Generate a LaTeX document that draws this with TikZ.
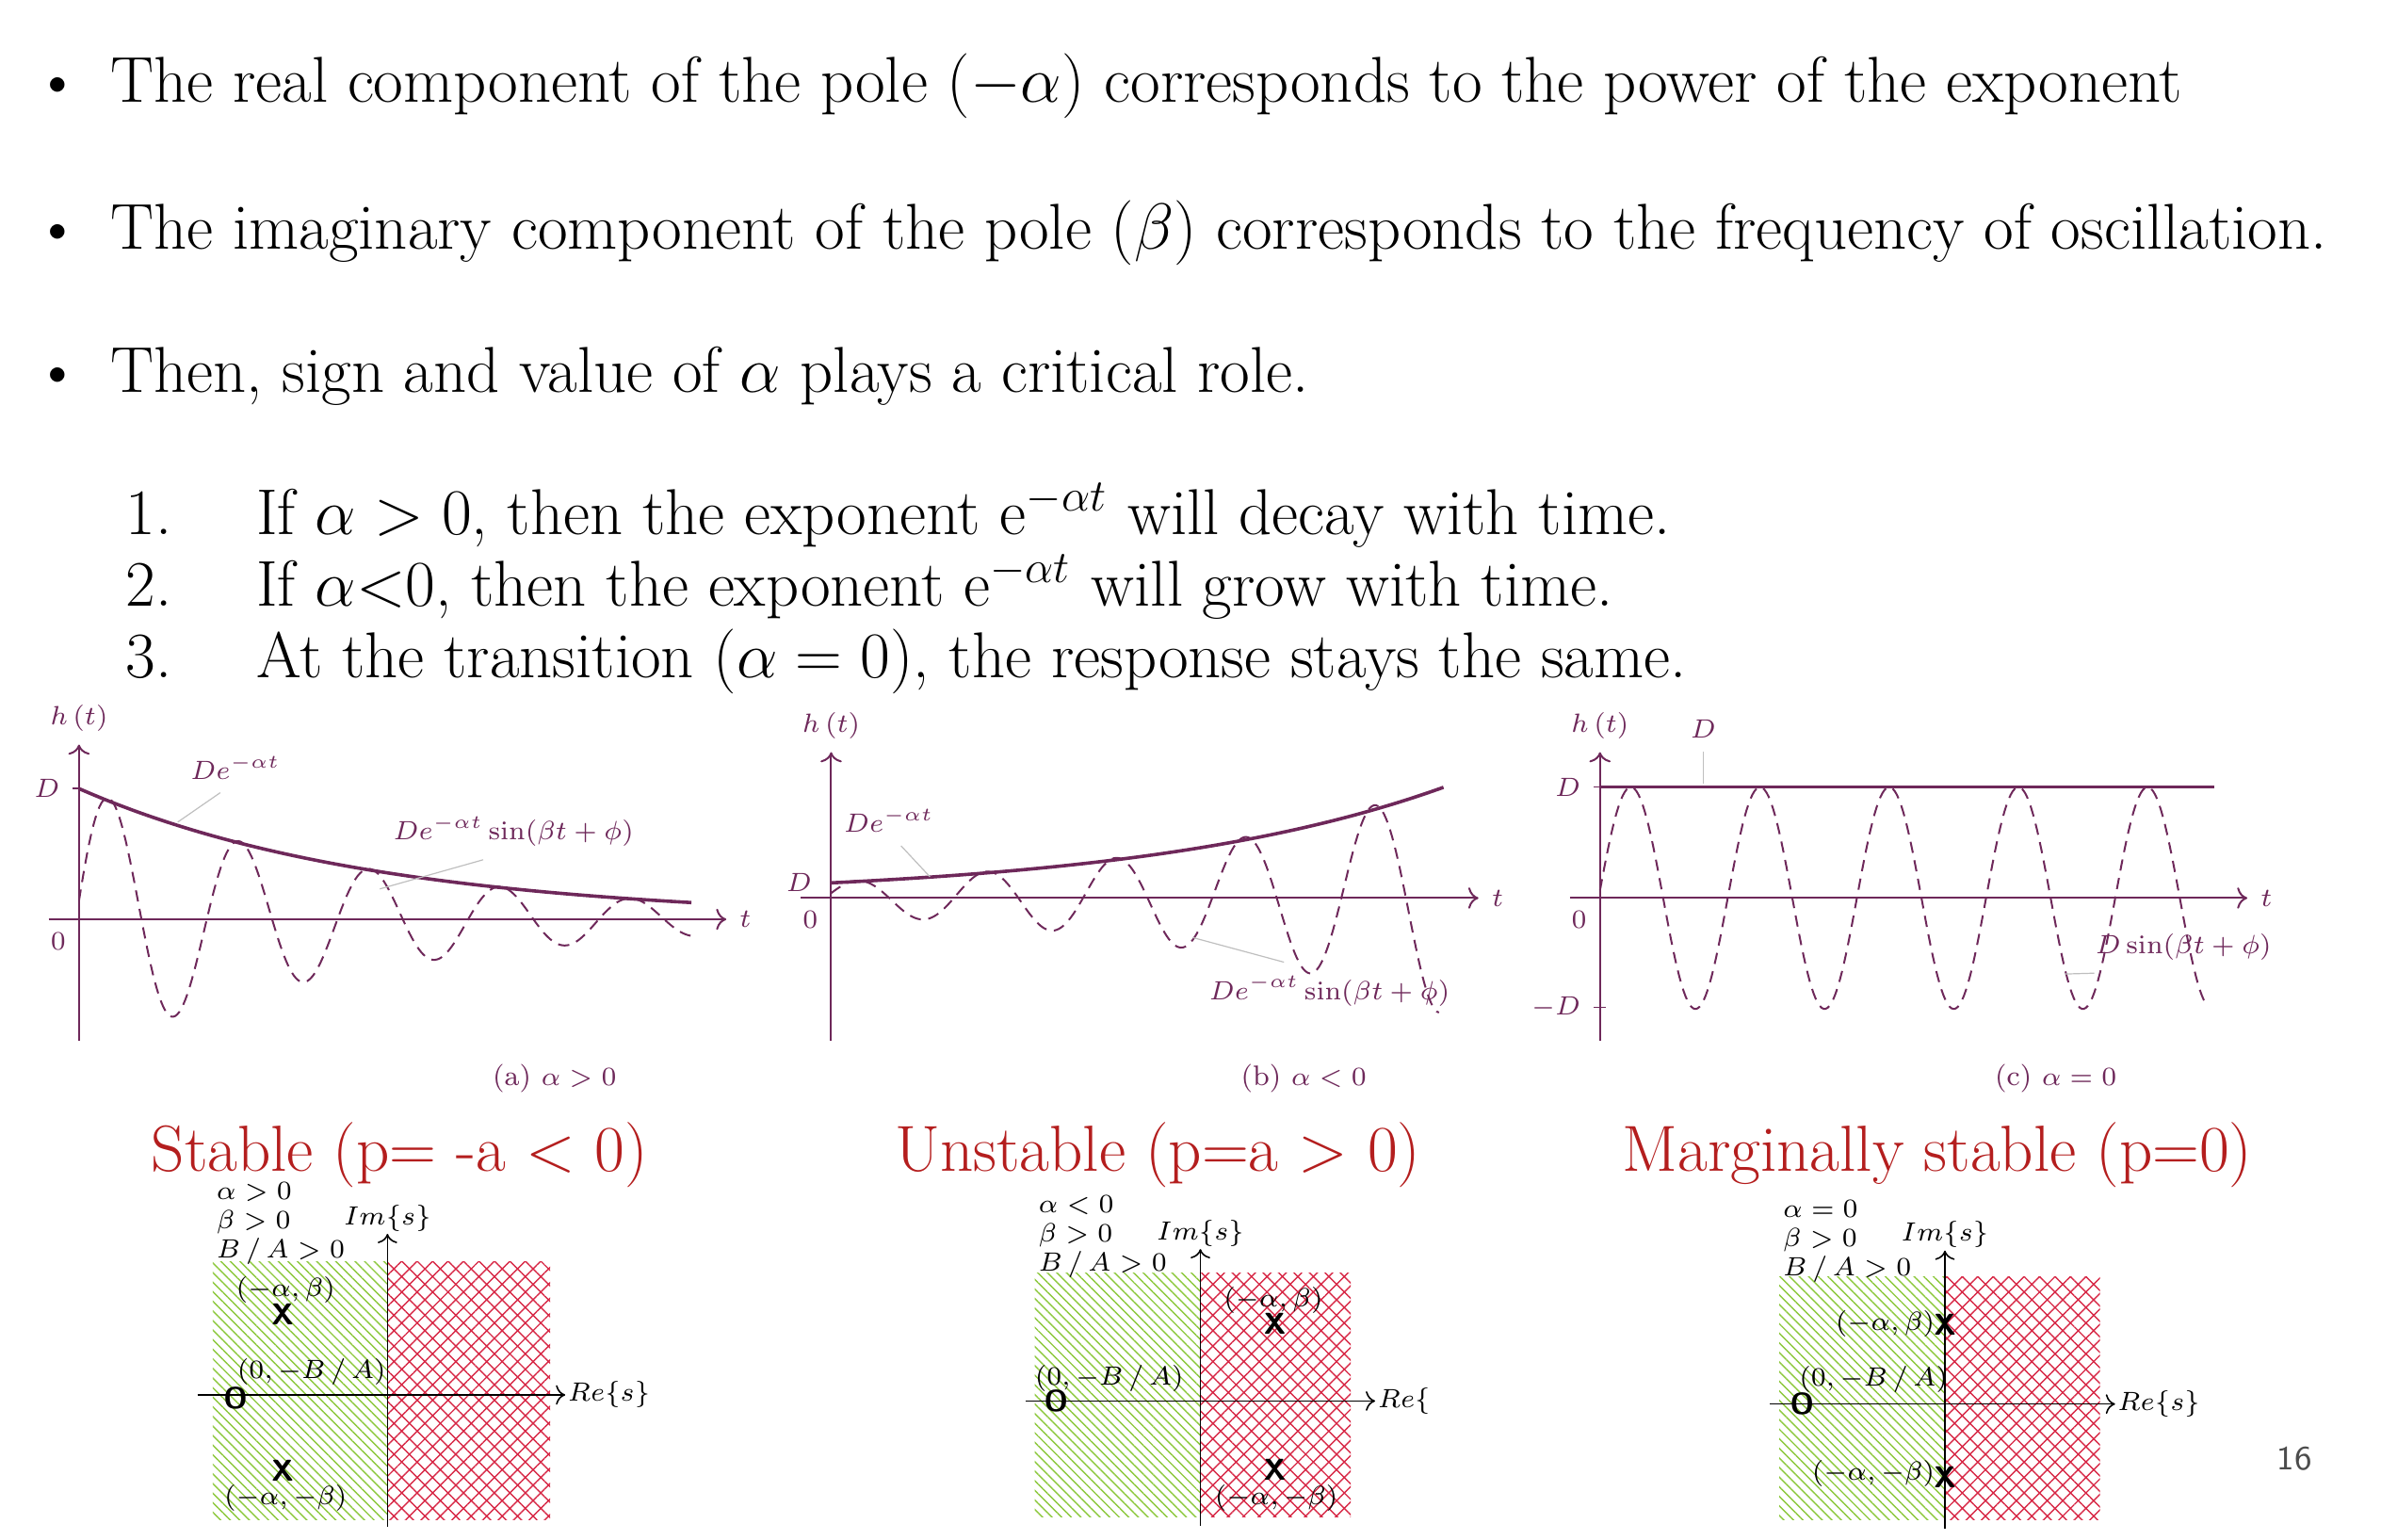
\documentclass[tikz,border=0pt]{standalone}
\usetikzlibrary{patterns.meta,arrows.meta}
\definecolor{plum}{RGB}{110,40,90}
\definecolor{titlered}{RGB}{180,30,30}
\definecolor{hatchgreen}{RGB}{140,200,60}
\definecolor{hatchred}{RGB}{215,40,70}
\begin{document}
\begin{tikzpicture}[x=0.4033pt,y=-0.4033pt,>=To,
  bullet/.style={anchor=base west,font=\fontsize{17.2}{20}\selectfont},
  title/.style={text=titlered,font=\fontsize{17.3}{21}\selectfont},
  axis/.style={plum,line width=0.5pt,->},
  env/.style={plum,line width=0.9pt},
  osc/.style={plum,dashed,line width=0.5pt,dash pattern=on 3pt off 2pt},
  lead/.style={black!25,line width=0.3pt},
  plab/.style={plum,font=\fontsize{7.5}{9}\selectfont},
  pax/.style={black,line width=0.4pt,->},
  pl/.style={font=\fontsize{6.8}{8}\selectfont\itshape,inner sep=0.5pt},
  cond/.style={font=\fontsize{6.8}{7.8}\selectfont,anchor=west,align=left,inner sep=0pt},
  pole/.style={font=\sffamily\bfseries\fontsize{8}{8}\selectfont,inner sep=0pt},
  stab/.style={pattern={Lines[angle=-45,distance=1.8pt,line width=0.35pt]},pattern color=hatchgreen},
  unst/.style={pattern={Hatch[angle=45,distance=2.9pt,line width=0.35pt]},pattern color=hatchred}]
\useasboundingbox (0,0) rectangle (1567,1013);

% Bullets
\foreach \y/\txt in {67/{The real component of the pole ($-\alpha$) corresponds to the power of the exponent},
  164/{The imaginary component of the pole ($\beta$) corresponds to the frequency of oscillation.},
  258/{Then, sign and value of $\alpha$ plays a critical role.}}{
  \node[bullet] at (14,\y) {\textbullet};
  \node[bullet] at (64,\y) {\txt};
}
\foreach \y/\n/\txt in {352/1./{If $\alpha>0$, then the exponent e$^{-\alpha t}$ will decay with time.},
  399/2./{If $\alpha{<}0$, then the exponent e$^{-\alpha t}$ will grow with time.},
  446/3./{At the transition ($\alpha=0$), the response stays the same.}}{
  \node[bullet] at (74,\y) {\n};
  \node[bullet] at (160,\y) {\txt};
}

% Plot (a): decay
\begin{scope}[shift={(52,605)}]
  \draw[axis] (-20,0) -- (426,0) node[right,plab] (ta) {$t$};
  \draw[axis] (0,80) -- (0,-115) node[above,plab] (ha) {$h\,(t)$};
  \draw[plum,line width=0.4pt] (-4,-86) -- (0,-86);
  \node[plab,left] (da) at (-4,-86) {$D$};
  \node[plab,below left] (za) at (0,0) {$0$};
  \draw[env] plot[domain=0:403,samples=120] (\x,{-86*exp(-0.0051*\x)});
  \draw[osc] plot[domain=0:403,samples=300] (\x,{-88*exp(-0.0051*\x)*sin(4.186*\x+8)});
  \node[plab] (ea) at (103,-100) {$De^{-\alpha t}$};
  \node[plab] (sa) at (286,-58) {$De^{-\alpha t}\sin(\beta t+\phi)$};
  \draw[lead] (ea.south) ++(-10,0) -- (65,-64);
  \draw[lead] (sa.south) ++(-20,0) -- (198,-20);
  \node[plab] (ca) at (313,105) {(a) $\alpha>0$};
\end{scope}

% Plot (b): growth
\begin{scope}[shift={(547,591)}]
  \draw[axis] (-20,0) -- (426,0) node[right,plab] (tb) {$t$};
  \draw[axis] (0,94) -- (0,-96) node[above,plab] (hb) {$h\,(t)$};
  \node[plab,left] (db) at (-4,-10) {$D$};
  \node[plab,below left] (zb) at (0,0) {$0$};
  \draw[env] plot[domain=0:403,samples=120] (\x,{-10*exp(0.00493*\x)});
  \draw[osc] plot[domain=0:400,samples=300] (\x,{-10.5*exp(0.00493*\x)*sin(4.235*\x+18)});
  \node[plab] (eb) at (38,-51) {$De^{-\alpha t}$};
  \node[plab] (sb) at (328,61) {$De^{-\alpha t}\sin(\beta t+\phi)$};
  \draw[lead] (eb.south) ++(8,0) -- (65,-14);
  \draw[lead] (sb.north) ++(-30,0) -- (238,26);
  \node[plab] (cb) at (311,119) {(b) $\alpha<0$};
\end{scope}

% Plot (c): marginal
\begin{scope}[shift={(1053,591)}]
  \draw[axis] (-20,0) -- (426,0) node[right,plab] (tc) {$t$};
  \draw[axis] (0,94) -- (0,-96) node[above,plab] (hc) {$h\,(t)$};
  \draw[plum,line width=0.4pt] (-4,-73) -- (0,-73) (-4,72) -- (4,72);
  \node[plab,left] (dc) at (-4,-73) {$D$};
  \node[plab,left] (mdc) at (-4,72) {$-D$};
  \node[plab,below left] (zc) at (0,0) {$0$};
  \draw[env] (0,-73) -- (404,-73);
  \draw[osc] plot[domain=0:400,samples=300] (\x,{-73*sin(4.235*\x+4)});
  \node[plab] (ec) at (68,-111) {$D$};
  \node[plab] (sc) at (384,32) {$D\sin(\beta t+\phi)$};
  \draw[lead] (ec.south) ++(0,0) -- (68,-75);
  \draw[lead] (sc.south west) ++(8,0) -- (306,50);
  \node[plab] (cc) at (300,119) {(c) $\alpha=0$};
\end{scope}

% Titles
\node[title] (t1) at (263,760) {Stable (p= -a $<$ 0)};
\node[title] (t2) at (762,760) {Unstable (p=a $>$ 0)};
\node[title] (t3) at (1275,760) {Marginally stable (p=0)};

% Pole-zero plane 1
\fill[stab] (140,830) rectangle (255,1000);
\fill[unst] (255,830) rectangle (362,1000);
\draw[pax] (130,918) -- (372,918) node[right,pl] (re1) {$Re\{s\}$};
\draw[pax] (255,1005) -- (255,812) node[above,pl] (im1) {$Im\{s\}$};
\node[cond] (k1) at (142,805) {$\alpha>0$\\$\beta>0$\\$B\,/\,A>0$};
\node[pole] (p1a) at (186,865) {X};
\node[pole] (p1b) at (186,968) {X};
\node[pole] (z1) at (155,920) {O};
\node[pl] at (188,849) {$(-\alpha,\beta)$};
\node[pl] at (205,903) {$(0,-B\,/\,A)$};
\node[pl] at (188,986) {$(-\alpha,-\beta)$};

% Pole-zero plane 2
\fill[stab] (681,838) rectangle (790,998);
\fill[unst] (790,838) rectangle (889,998);
\draw[pax] (675,922) -- (905,922) node[right,pl] (re2) {$Re\{$};
\draw[pax] (790,1004) -- (790,822) node[above,pl] (im2) {$Im\{s\}$};
\node[cond] (k2) at (683,814) {$\alpha<0$\\$\beta>0$\\$B\,/\,A>0$};
\node[pole] (p2a) at (839,871) {X};
\node[pole] (p2b) at (839,967) {X};
\node[pole] (z2) at (695,922) {O};
\node[pl] at (838,856) {$(-\alpha,\beta)$};
\node[pl] at (730,907) {$(0,-B\,/\,A)$};
\node[pl] at (840,986) {$(-\alpha,-\beta)$};

% Pole-zero plane 3
\fill[stab] (1171,840) rectangle (1280,1000);
\fill[unst] (1280,840) rectangle (1382,1000);
\draw[pax] (1165,924) -- (1392,924) node[right,pl] (re3) {$Re\{s\}$};
\draw[pax] (1280,1006) -- (1280,823) node[above,pl] (im3) {$Im\{s\}$};
\node[cond] (k3) at (1173,817) {$\alpha=0$\\$\beta>0$\\$B\,/\,A>0$};
\node[pole] (p3a) at (1280,872) {X};
\node[pole] (p3b) at (1280,972) {X};
\node[pole] (z3) at (1186,924) {O};
\node[pl,left] at (1275,871) {$(-\alpha,\beta)$};
\node[pl] at (1233,908) {$(0,-B\,/\,A)$};
\node[pl,left] at (1275,970) {$(-\alpha,-\beta)$};

% Page number
\node[text=black!70,font=\sffamily\fontsize{9}{10}\selectfont] (pg) at (1510,960) {16};
\end{tikzpicture}
\end{document}
